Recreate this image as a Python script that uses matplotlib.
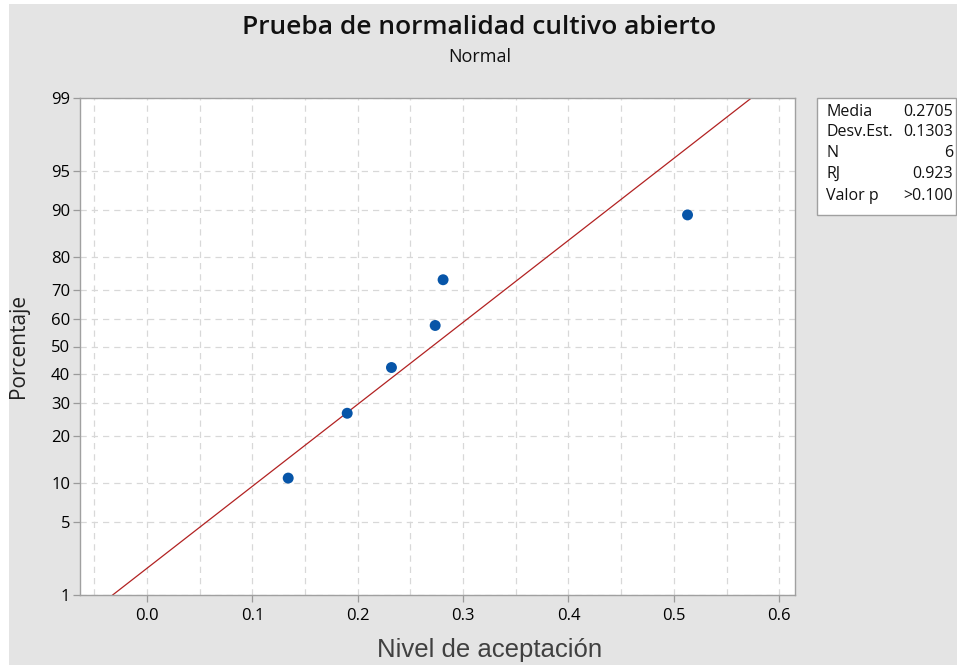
import numpy as np
import matplotlib
matplotlib.use("Agg")
import matplotlib.pyplot as plt
from matplotlib.patches import Rectangle
from statistics import NormalDist

# ---- data ----
values = [0.134, 0.190, 0.232, 0.2735, 0.281, 0.513]
percent = [10.9, 26.6, 42.2, 57.8, 73.4, 89.1]
mean = 0.2705
sd = 0.1303
ytick_pct = [1, 5, 10, 20, 30, 40, 50, 60, 70, 80, 90, 95, 99]
xticks = [0.0, 0.1, 0.2, 0.3, 0.4, 0.5, 0.6]
stats_labels = ["Media", "Desv.Est.", "N", "RJ", "Valor p"]
stats_values = ["0.2705", "0.1303", "6", "0.923", ">0.100"]
title = "Prueba de normalidad cultivo abierto"
subtitle = "Normal"
xlabel = "Nivel de aceptación"
ylabel = "Porcentaje"

nd = NormalDist()
def z(p):
    return nd.inv_cdf(p / 100.0)

W, H = 957, 665
fig = plt.figure(figsize=(W / 100, H / 100), dpi=100)
fig.patch.set_facecolor("white")
fig.patches.append(Rectangle((9 / W, 0), 1 - 9 / W, 1 - 4 / H, transform=fig.transFigure,
                             facecolor="#E4E4E4", edgecolor="none", zorder=-10))

ax = fig.add_axes([80 / W, 1 - 595 / H, (795 - 80) / W, (595 - 98) / H])
ax.set_facecolor("white")

zlim = z(99)
ax.set_ylim(-zlim, zlim)
ax.set_xlim(-0.0636, 0.615)

# grid
for xv in np.arange(-0.05, 0.6001, 0.05):
    ax.axvline(xv, color="#D8D8D8", lw=0.9, ls=(0, (5, 4)), zorder=1)
for p in ytick_pct:
    ax.axhline(z(p), color="#D8D8D8", lw=0.9, ls=(0, (5, 4)), zorder=1)

# fitted line
zz = np.array([-zlim, zlim])
ax.plot(mean + sd * zz, zz, color="#B22222", lw=0.9, zorder=2, clip_on=True)

# points
ax.scatter(values, [z(p) for p in percent], s=62, color="#0755A8", zorder=3, edgecolors="none")

ax.set_yticks([z(p) for p in ytick_pct])
ax.set_yticklabels([str(p) for p in ytick_pct], fontsize=12, family="Open Sans")
ax.set_xticks(xticks)
ax.set_xticklabels([f"{v:.1f}" for v in xticks], fontsize=12, family="Open Sans")
ax.tick_params(axis="both", length=5, width=0.9, color="#9A9A9A", pad=2)
ax.tick_params(axis="x", pad=4)
for s in ax.spines.values():
    s.set_color("#A0A0A0")
    s.set_linewidth(1.0)

fig.text(490 / W, 1 - 650 / H, xlabel, ha="center", va="center", fontsize=18.5,
         family="Liberation Sans", color="#404040")
fig.text(19 / W, 1 - 346 / H, ylabel, ha="center", va="center", rotation=90,
         fontsize=15, family="Open Sans", color="#202020")

fig.text(479 / W, 1 - 27 / H, title, ha="center", va="center", fontsize=19,
         family="Open Sans", weight="semibold", color="#111111")
fig.text(480 / W, 1 - 57 / H, subtitle, ha="center", va="center", fontsize=13,
         family="Open Sans", color="#111111")

# stats box
fig.patches.append(Rectangle((817 / W, 1 - 215 / H), (956 - 817) / W, (215 - 98) / H,
                             transform=fig.transFigure, facecolor="white",
                             edgecolor="#A0A0A0", lw=1.0, zorder=5))
rows_y = [112, 132, 153, 174, 196]
for lab, val, yy in zip(stats_labels, stats_values, rows_y):
    fig.text(826 / W, 1 - yy / H, lab, ha="left", va="center", fontsize=11.5,
             family="Open Sans", color="#111111", zorder=6)
    fig.text(953 / W, 1 - yy / H, val, ha="right", va="center", fontsize=11.5,
             family="Open Sans", color="#111111", zorder=6)

fig.savefig("out.png", dpi=100, facecolor=fig.get_facecolor())
